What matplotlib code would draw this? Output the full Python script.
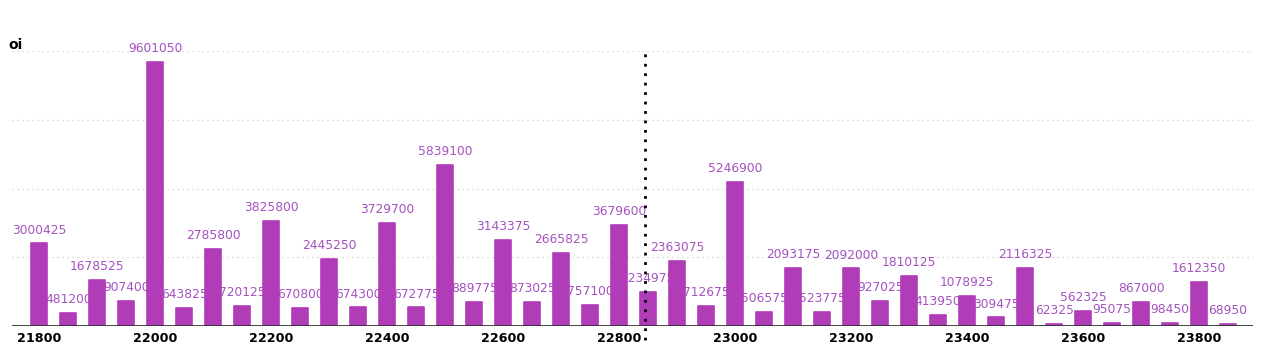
import matplotlib
matplotlib.use("Agg")
import matplotlib.pyplot as plt

strikes = [21800, 21850, 21900, 21950, 22000, 22050, 22100, 22150, 22200, 22250,
           22300, 22350, 22400, 22450, 22500, 22550, 22600, 22650, 22700, 22750,
           22800, 22850, 22900, 22950, 23000, 23050, 23100, 23150, 23200, 23250,
           23300, 23350, 23400, 23450, 23500, 23550, 23600, 23650, 23700, 23750,
           23800, 23850]
oi = [3000425, 481200, 1678525, 907400, 9601050, 643825, 2785800, 720125, 3825800, 670800,
      2445250, 674300, 3729700, 672775, 5839100, 889775, 3143375, 873025, 2665825, 757100,
      3679600, 1234975, 2363075, 712675, 5246900, 506575, 2093175, 523775, 2092000, 927025,
      1810125, 413950, 1078925, 309475, 2116325, 62325, 562325, 95075, 867000, 98450,
      1612350, 68950]
xticks = [21800, 22000, 22200, 22400, 22600, 22800, 23000, 23200, 23400, 23600, 23800]
grid_levels = [2500000, 5000000, 7500000, 10000000]
spot = 22845

bar_color = "#b03cb8"
label_color = "#a452c0"

fig = plt.figure(figsize=(12.63, 3.49), dpi=100)
ax = fig.add_axes([12/1263, 23/349, 1241/1263, 275/349])

for g in grid_levels:
    ax.axhline(g, color="#d0d0d0", lw=0.9, ls=(0, (1, 3)), zorder=0)

for x, v in zip(strikes, oi):
    ax.annotate(str(v), (x, v), xytext=(0, 5), textcoords="offset points",
                ha="center", va="bottom", fontsize=8.8, color=label_color,
                zorder=1, annotation_clip=False)

ax.bar(strikes, oi, width=27, color=bar_color, edgecolor=bar_color,
       linewidth=1.2, joinstyle="round", zorder=2)

ax.axvline(spot, ymin=-0.05, ymax=1.01, color="black", lw=2,
           ls=(0, (1, 2.4)), clip_on=False, zorder=3)

ax.axhline(0, color="#333333", lw=2, zorder=4)

ax.set_xlim(21753, 23893)
ax.set_ylim(0, 10000000)
ax.set_xticks(xticks)
ax.set_xticklabels([str(t) for t in xticks], fontsize=9.2, fontweight="bold")
ax.tick_params(axis="x", length=0, pad=4)
ax.set_yticks([])
for s in ax.spines.values():
    s.set_visible(False)

fig.text(8/1263, 1 - 45/349, "oi", fontsize=10, fontweight="bold", va="center", ha="left")

fig.savefig("out.png", dpi=100)
